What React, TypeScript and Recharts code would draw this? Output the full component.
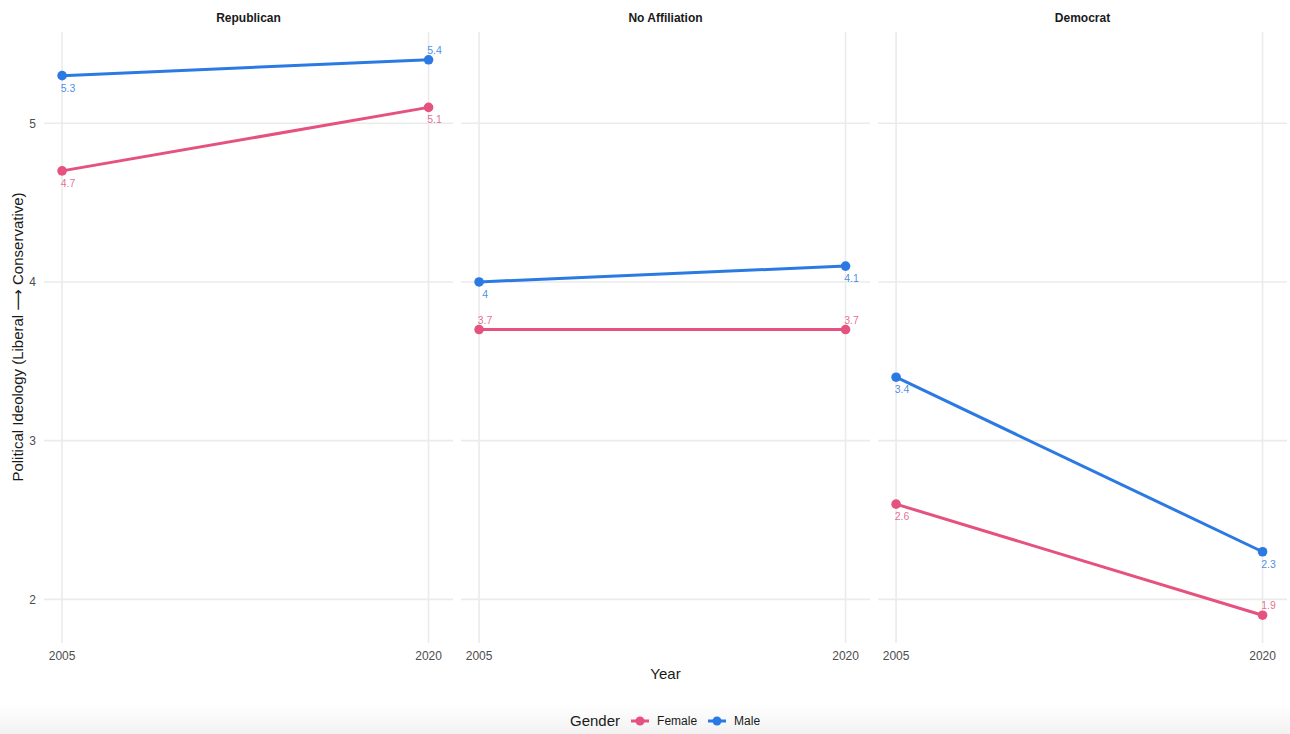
import React from "react";
import { LineChart, Line, XAxis, YAxis, CartesianGrid } from "recharts";

const years = [2005, 2020];
const parties = ["Republican", "No Affiliation", "Democrat"];
const femaleValues = [
  [4.7, 5.1],
  [3.7, 3.7],
  [2.6, 1.9],
];
const maleValues = [
  [5.3, 5.4],
  [4.0, 4.1],
  [3.4, 2.3],
];
const femaleLabelSide = [
  ["below", "below"],
  ["above", "above"],
  ["below", "above"],
];
const maleLabelSide = [
  ["below", "above"],
  ["below", "below"],
  ["below", "below"],
];
const yTicks = [2, 3, 4, 5];
const xTicks = [2005, 2020];

const FEMALE = "#E5527F";
const MALE = "#2B7AE3";
const FONT = "'Liberation Sans', Arial, Helvetica, sans-serif";

const panelLefts = [0, 461, 878];
const panelWidths = [453, 409, 409];

function makeDot(color: string, sides: string[]) {
  return (p: any) => {
    const { cx, cy, index, value } = p;
    if (cx == null || cy == null) return <g key={`d-${index}`} />;
    const side = sides[index];
    const ty = side === "above" ? cy - 10 : cy + 12;
    return (
      <g key={`d-${index}`}>
        <circle cx={cx} cy={cy} r={4.8} fill={color} stroke="none" />
        <text
          x={cx + 6}
          y={ty}
          textAnchor="middle"
          dominantBaseline="central"
          fontSize={10.5}
          fontFamily={FONT}
          fill={color}
          fillOpacity={0.85}
        >
          {String(value)}
        </text>
      </g>
    );
  };
}

function Panel({ i }: { i: number }) {
  const data = years.map((y, k) => ({
    year: y,
    female: femaleValues[i][k],
    male: maleValues[i][k],
  }));
  const first = i === 0;
  return (
    <div style={{ position: "absolute", left: panelLefts[i], top: 0 }}>
      <LineChart
        width={panelWidths[i]}
        height={665}
        data={data}
        margin={{ top: 32, right: 0, bottom: 0, left: 0 }}
      >
        <CartesianGrid stroke="#ebebeb" strokeWidth={1.6} syncWithTicks />
        <XAxis
          type="number"
          dataKey="year"
          domain={[2004.26, 2021.0]}
          ticks={xTicks}
          allowDataOverflow
          axisLine={false}
          tickLine={false}
          height={22}
          tick={{ fontSize: 12, fill: "#4d4d4d", fontFamily: FONT }}
        />
        <YAxis
          type="number"
          domain={[1.725, 5.575]}
          ticks={yTicks}
          allowDataOverflow
          hide={!first}
          width={44}
          axisLine={false}
          tickLine={false}
          tick={{ fontSize: 12, fill: "#4d4d4d", fontFamily: FONT }}
        />
        <Line
          type="linear"
          dataKey="female"
          stroke={FEMALE}
          strokeWidth={3}
          dot={makeDot(FEMALE, femaleLabelSide[i])}
          activeDot={false}
          isAnimationActive={false}
        />
        <Line
          type="linear"
          dataKey="male"
          stroke={MALE}
          strokeWidth={3}
          dot={makeDot(MALE, maleLabelSide[i])}
          activeDot={false}
          isAnimationActive={false}
        />
      </LineChart>
      <div
        style={{
          position: "absolute",
          left: first ? 44 : 0,
          width: first ? panelWidths[i] - 44 : panelWidths[i],
          top: 10,
          textAlign: "center",
          fontFamily: FONT,
          fontWeight: "bold",
          fontSize: 12,
          color: "#1a1a1a",
          lineHeight: "16px",
        }}
      >
        {parties[i]}
      </div>
    </div>
  );
}

function LegendKey({ color }: { color: string }) {
  return (
    <svg width={20} height={12} style={{ display: "inline-block", verticalAlign: "middle" }}>
      <line x1={1} y1={6} x2={19} y2={6} stroke={color} strokeWidth={3} />
      <circle cx={10} cy={6} r={4.5} fill={color} />
    </svg>
  );
}

export default function App() {
  return (
    <div
      style={{
        position: "relative",
        width: 1290,
        height: 734,
        background: "#ffffff",
        overflow: "hidden",
        fontFamily: FONT,
      }}
    >
      <style>{"body{margin:0;}"}</style>
      <div
        style={{
          position: "absolute",
          left: 0,
          top: 704,
          width: 1290,
          height: 30,
          background: "linear-gradient(to bottom, rgba(0,0,0,0), rgba(0,0,0,0.05))",
        }}
      />
      {parties.map((_, i) => (
        <Panel key={i} i={i} />
      ))}
      <div
        style={{
          position: "absolute",
          left: 18,
          top: 337,
          transform: "translate(-50%, -50%) rotate(-90deg)",
          whiteSpace: "nowrap",
          fontSize: 15,
          color: "#1a1a1a",
        }}
      >
        Political Ideology (Liberal <span style={{ fontFamily: "'DejaVu Sans', sans-serif" }}>⟶</span> Conservative)
      </div>
      <div
        style={{
          position: "absolute",
          left: 44,
          width: 1243,
          top: 665,
          textAlign: "center",
          fontSize: 15,
          color: "#1a1a1a",
          lineHeight: "18px",
        }}
      >
        Year
      </div>
      <div
        style={{
          position: "absolute",
          left: 570,
          top: 712,
          display: "flex",
          alignItems: "center",
          whiteSpace: "nowrap",
          color: "#1a1a1a",
        }}
      >
        <span style={{ fontSize: 15, marginRight: 10 }}>Gender</span>
        <LegendKey color={FEMALE} />
        <span style={{ fontSize: 12, marginLeft: 7, marginRight: 10 }}>Female</span>
        <LegendKey color={MALE} />
        <span style={{ fontSize: 12, marginLeft: 7 }}>Male</span>
      </div>
    </div>
  );
}
